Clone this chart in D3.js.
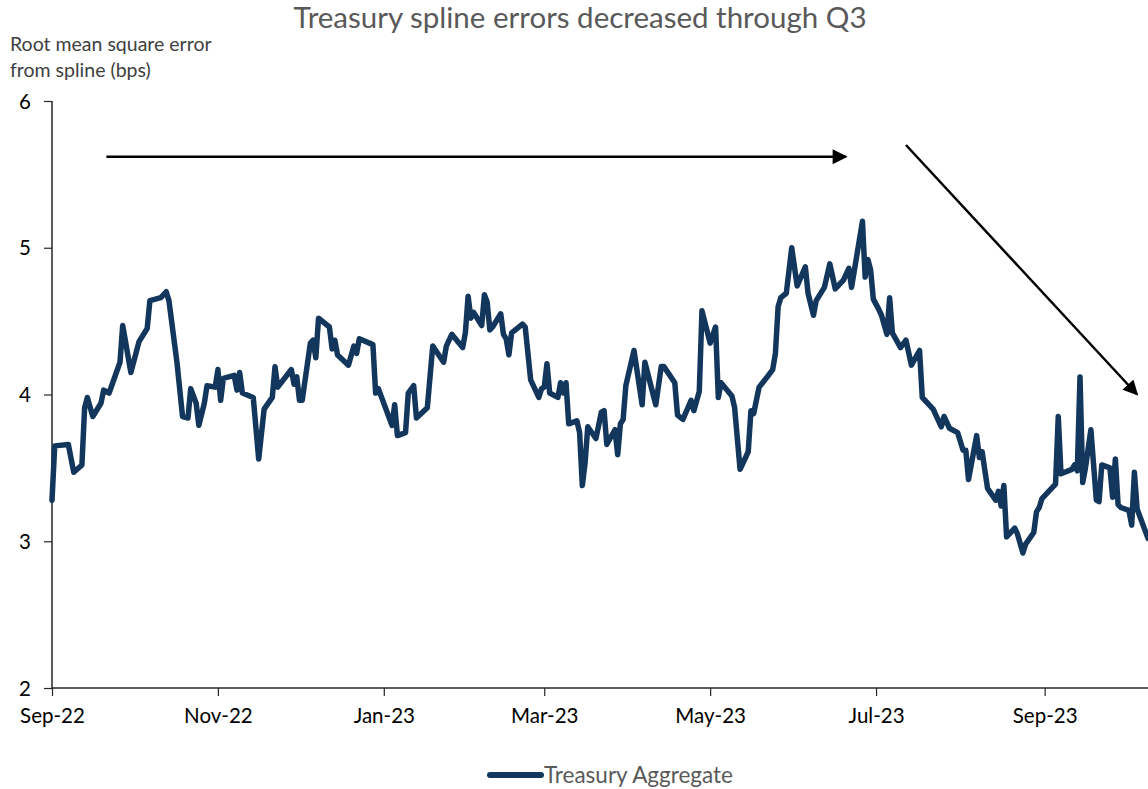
<!DOCTYPE html>
<html>
<head>
<meta charset="utf-8">
<script src="https://cdn.jsdelivr.net/npm/d3@7"></script>
<style>
  body { margin: 0; background: #fff; }
  text { font-family: Lato, "Open Sans", sans-serif; }
</style>
</head>
<body>
<svg id="chart" width="1148" height="789"></svg>
<script>
// Treasury aggregate RMSE from spline (bps)
const dates = [
  "2022-09-01","2022-09-02","2022-09-07","2022-09-09","2022-09-12","2022-09-13","2022-09-14","2022-09-16",
  "2022-09-19","2022-09-20","2022-09-22","2022-09-26","2022-09-27","2022-09-30",
  "2022-10-03","2022-10-06","2022-10-07","2022-10-11","2022-10-13","2022-10-14","2022-10-17","2022-10-19",
  "2022-10-21","2022-10-22","2022-10-24","2022-10-25","2022-10-27","2022-10-28","2022-10-31",
  "2022-11-01","2022-11-02","2022-11-03","2022-11-07","2022-11-08","2022-11-09","2022-11-10","2022-11-14",
  "2022-11-16","2022-11-18","2022-11-21","2022-11-22","2022-11-23","2022-11-28","2022-11-29","2022-11-30",
  "2022-12-01","2022-12-02","2022-12-05","2022-12-06","2022-12-07","2022-12-08","2022-12-12","2022-12-13",
  "2022-12-14","2022-12-15","2022-12-19","2022-12-21","2022-12-22","2022-12-23","2022-12-28","2022-12-29","2022-12-30",
  "2023-01-04","2023-01-05","2023-01-06","2023-01-09","2023-01-10","2023-01-12","2023-01-13","2023-01-17",
  "2023-01-19","2023-01-23","2023-01-24","2023-01-26","2023-01-30","2023-01-31",
  "2023-02-01","2023-02-02","2023-02-03","2023-02-06","2023-02-07","2023-02-08","2023-02-09","2023-02-10",
  "2023-02-13","2023-02-14","2023-02-15","2023-02-16","2023-02-17","2023-02-21","2023-02-22","2023-02-24",
  "2023-02-27","2023-02-28",
  "2023-03-01","2023-03-02","2023-03-03","2023-03-06","2023-03-07","2023-03-08","2023-03-09","2023-03-10",
  "2023-03-13","2023-03-14","2023-03-15","2023-03-16","2023-03-17","2023-03-20","2023-03-22","2023-03-23",
  "2023-03-24","2023-03-27","2023-03-28","2023-03-29","2023-03-30","2023-03-31",
  "2023-04-03","2023-04-06","2023-04-07","2023-04-11","2023-04-13","2023-04-14","2023-04-18","2023-04-19",
  "2023-04-21","2023-04-24","2023-04-25","2023-04-27","2023-04-28",
  "2023-05-01","2023-05-03","2023-05-04","2023-05-05","2023-05-09","2023-05-10","2023-05-12","2023-05-15",
  "2023-05-16","2023-05-17","2023-05-19","2023-05-22","2023-05-24","2023-05-25","2023-05-26","2023-05-27",
  "2023-05-29","2023-05-31",
  "2023-06-02","2023-06-05","2023-06-06","2023-06-08","2023-06-09","2023-06-12","2023-06-14","2023-06-16",
  "2023-06-19","2023-06-21","2023-06-22","2023-06-26","2023-06-27","2023-06-28","2023-06-29","2023-06-30",
  "2023-07-02","2023-07-03","2023-07-05","2023-07-06","2023-07-07","2023-07-10","2023-07-12","2023-07-14",
  "2023-07-17","2023-07-18","2023-07-19","2023-07-22","2023-07-25","2023-07-26","2023-07-28","2023-07-31",
  "2023-08-02","2023-08-03","2023-08-04","2023-08-07","2023-08-08","2023-08-09","2023-08-11","2023-08-14",
  "2023-08-15","2023-08-16","2023-08-17","2023-08-18","2023-08-21","2023-08-22","2023-08-24","2023-08-25",
  "2023-08-28","2023-08-29","2023-08-30","2023-08-31",
  "2023-09-05","2023-09-06","2023-09-07","2023-09-11","2023-09-12","2023-09-13","2023-09-14","2023-09-15",
  "2023-09-16","2023-09-18","2023-09-20","2023-09-21","2023-09-22","2023-09-25","2023-09-26","2023-09-27",
  "2023-09-28","2023-09-29",
  "2023-10-02","2023-10-03","2023-10-04","2023-10-05","2023-10-09"
];
const rmse = [
  3.28,3.65,3.66,3.47,3.52,3.91,3.98,3.85,
  3.94,4.03,4.01,4.22,4.47,4.15,
  4.36,4.45,4.64,4.66,4.70,4.64,4.21,3.85,
  3.84,4.04,3.94,3.79,3.94,4.06,4.05,
  4.17,3.96,4.11,4.13,4.03,4.15,4.01,3.98,
  3.56,3.90,3.98,4.19,4.05,4.17,4.07,4.12,
  3.96,3.96,4.35,4.37,4.25,4.52,4.46,4.31,
  4.37,4.27,4.20,4.33,4.28,4.38,4.34,4.01,4.04,
  3.79,3.93,3.72,3.74,4.01,4.06,3.84,3.91,
  4.33,4.22,4.33,4.41,4.32,4.42,
  4.67,4.52,4.56,4.47,4.68,4.63,4.44,4.46,
  4.55,4.41,4.38,4.27,4.42,4.48,4.46,4.10,
  3.98,4.04,
  4.05,4.21,4.01,3.98,4.08,4.01,4.08,3.80,
  3.82,3.74,3.38,3.53,3.78,3.70,3.88,3.89,
  3.66,3.76,3.59,3.80,3.83,4.06,
  4.30,3.93,4.22,3.93,4.19,4.19,4.08,3.86,
  3.83,3.96,3.89,4.02,4.57,
  4.35,4.46,3.98,4.08,3.99,3.91,3.49,3.61,
  3.89,3.87,4.05,4.12,4.17,4.28,4.60,4.66,
  4.69,5.00,
  4.74,4.87,4.69,4.54,4.64,4.73,4.89,4.72,
  4.78,4.86,4.73,5.18,4.80,4.92,4.85,4.65,
  4.58,4.54,4.41,4.66,4.42,4.32,4.37,4.20,
  4.30,3.98,3.96,3.90,3.78,3.85,3.77,3.74,
  3.62,3.62,3.42,3.72,3.57,3.61,3.36,3.28,
  3.34,3.24,3.38,3.03,3.09,3.05,2.92,2.98,
  3.06,3.20,3.23,3.29,
  3.39,3.85,3.46,3.49,3.52,3.48,4.12,3.40,
  3.50,3.76,3.28,3.27,3.52,3.50,3.30,3.56,
  3.25,3.23,
  3.21,3.11,3.47,3.22,3.02
];

const yTicks = [2, 3, 4, 5, 6];
const xTickDates = ["2022-09-01","2022-11-01","2023-01-01","2023-03-01","2023-05-01","2023-07-01","2023-09-01"];
const xDomain = ["2022-09-01", "2023-10-09"];

// arrows: [date, value] at each end
const arrowStarts = [["2022-09-21", 5.62], ["2023-07-12", 5.70]];
const arrowEnds = [["2023-06-20", 5.62], ["2023-10-05", 4.00]];

const titleText = "Treasury spline errors decreased through Q3";
const yTitleLines = ["Root mean square error", "from spline (bps)"];
const seriesName = "Treasury Aggregate";

const parse = d3.timeParse("%Y-%m-%d");
const fmt = d3.timeFormat("%b-%y");
const data = dates.map((d, i) => ({ date: parse(d), value: rmse[i] }));

const width = 1148, height = 789;
const margin = { top: 101, right: 0, bottom: 101, left: 52 };
const lineColor = "#13375c";

const svg = d3.select("#chart");

const x = d3.scaleTime()
  .domain(xDomain.map(parse))
  .range([margin.left, width - margin.right]);
const y = d3.scaleLinear()
  .domain([2, 6])
  .range([height - margin.bottom, margin.top]);

svg.append("defs").append("marker")
  .attr("id", "head")
  .attr("viewBox", "0 0 10 10")
  .attr("refX", 9)
  .attr("refY", 5)
  .attr("markerWidth", 7)
  .attr("markerHeight", 6)
  .attr("orient", "auto")
  .attr("markerUnits", "strokeWidth")
  .append("path")
  .attr("d", "M0,0L10,5L0,10Z")
  .attr("fill", "#000");

// title
svg.append("text")
  .attr("x", 580).attr("y", 28)
  .attr("text-anchor", "middle")
  .attr("font-size", 29.5)
  .attr("fill", "#595959")
  .text(titleText);

svg.append("text")
  .attr("x", 10).attr("y", 51)
  .attr("font-size", 19.5)
  .attr("fill", "#404040")
  .selectAll("tspan")
  .data(yTitleLines)
  .join("tspan")
  .attr("x", 10)
  .attr("dy", (d, i) => i ? 26 : 0)
  .text(d => d);

// axes
const yAxis = svg.append("g")
  .attr("transform", `translate(${margin.left},0)`)
  .call(d3.axisLeft(y).tickValues(yTicks).tickSize(8).tickPadding(13).tickFormat(d3.format("d")));

const xAxis = svg.append("g")
  .attr("transform", `translate(0,${height - margin.bottom})`)
  .call(d3.axisBottom(x).tickValues(xTickDates.map(parse)).tickSize(8).tickPadding(12).tickFormat(fmt));

[yAxis, xAxis].forEach(g => {
  g.select(".domain").attr("stroke", "#262626").attr("stroke-width", 1.5);
  g.selectAll(".tick line").attr("stroke", "#262626").attr("stroke-width", 1.2);
  g.selectAll(".tick text")
    .attr("font-size", 20.5)
    .attr("fill", "#000")
    .attr("font-family", "Lato, 'Open Sans', sans-serif");
});
xAxis.select(".domain").attr("d", `M${margin.left},0H${width}`);
yAxis.select(".domain").attr("d", `M0,${margin.top}V${height - margin.bottom}`);
yAxis.selectAll(".tick text").attr("dy", "0.35em");

// series
svg.append("path")
  .datum(data)
  .attr("fill", "none")
  .attr("stroke", lineColor)
  .attr("stroke-width", 5.5)
  .attr("stroke-linejoin", "round")
  .attr("stroke-linecap", "round")
  .attr("d", d3.line().x(d => x(d.date)).y(d => y(d.value)));

// arrows
svg.append("g")
  .selectAll("line")
  .data(arrowStarts.map((s, i) => [s, arrowEnds[i]]))
  .join("line")
  .attr("x1", d => x(parse(d[0][0])))
  .attr("y1", d => y(d[0][1]))
  .attr("x2", d => x(parse(d[1][0])))
  .attr("y2", d => y(d[1][1]))
  .attr("stroke", "#000")
  .attr("stroke-width", 2.5)
  .attr("marker-end", "url(#head)");

// legend
const legend = svg.append("g").attr("transform", "translate(488,775)");
legend.append("line")
  .attr("x1", 2).attr("x2", 53)
  .attr("stroke", lineColor)
  .attr("stroke-width", 6)
  .attr("stroke-linecap", "round");
legend.append("text")
  .attr("x", 56).attr("y", 0)
  .attr("dy", "0.35em")
  .attr("font-size", 22.5)
  .attr("fill", "#595959")
  .text(seriesName);
</script>
</body>
</html>
